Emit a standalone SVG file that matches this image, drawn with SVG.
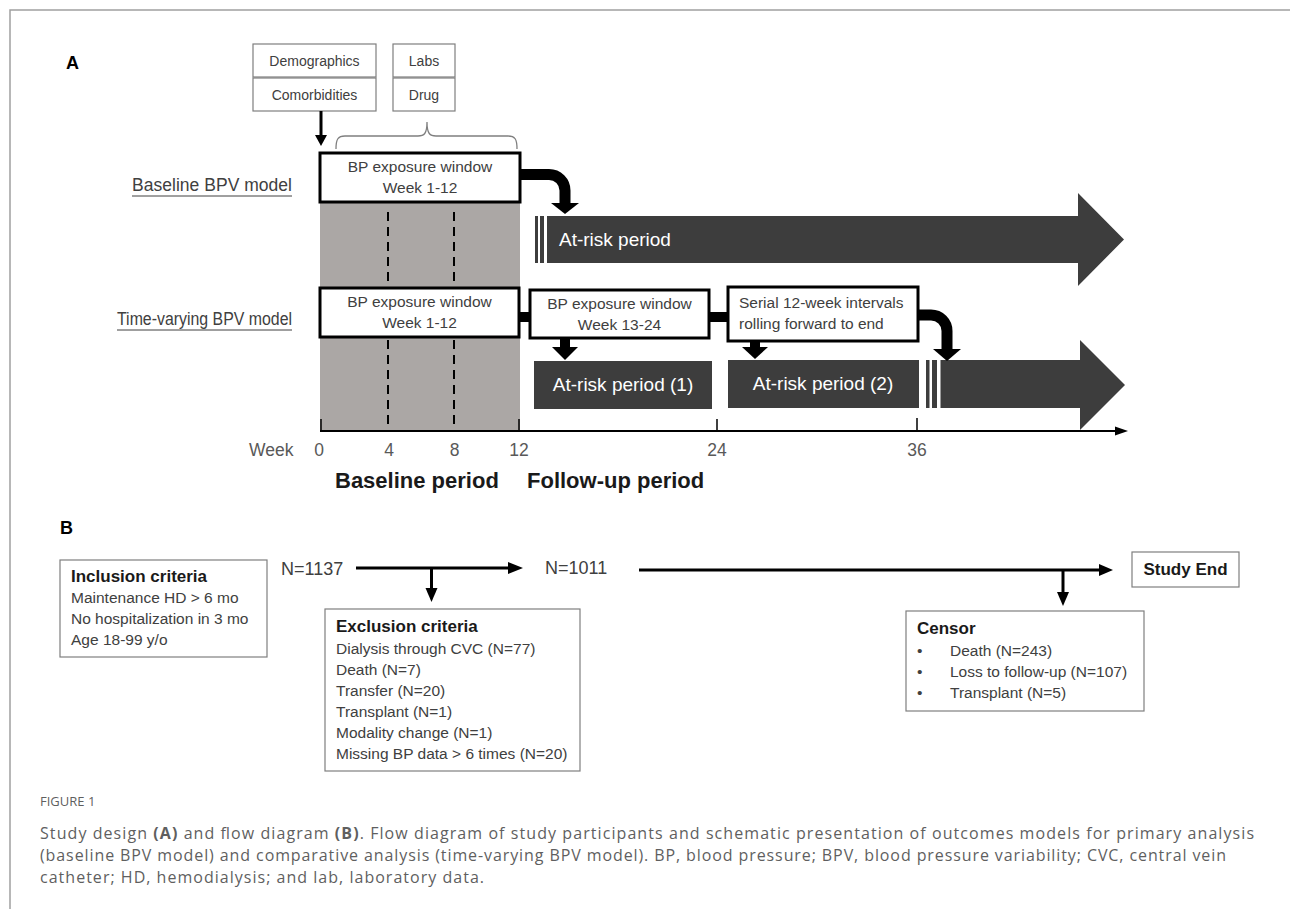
<svg xmlns="http://www.w3.org/2000/svg" width="1290" height="909" viewBox="0 0 1290 909">
<defs>
<style>
text{font-family:"Liberation Sans",Arial,sans-serif;}
.pl{font-size:18px;font-weight:bold;fill:#000;}
.sm{font-size:14px;fill:#404040;text-anchor:middle;}
.bx{font-size:15.5px;fill:#404040;text-anchor:middle;}
.lbl{font-size:17.5px;fill:#404040;text-anchor:end;}
.risk{font-size:19px;fill:#fff;}
.wk{font-size:17.5px;fill:#595959;text-anchor:middle;}
.per{font-size:22px;font-weight:bold;fill:#1a1a1a;}
.ttl{font-size:17px;font-weight:bold;fill:#1a1a1a;}
.it{font-size:15.5px;fill:#404040;}
.nn{font-size:18px;fill:#404040;}
.cap{font-family:"Open Sans","Liberation Sans",sans-serif;font-size:16px;fill:#5f5f5f;}
.gbox{fill:#fff;stroke:#7f7f7f;stroke-width:1.2;}
.kbox{fill:#fff;stroke:#000;stroke-width:3;}
.dark{fill:#3d3d3d;}
.blk{fill:#000;}
.dash{stroke:#000;stroke-width:2;stroke-dasharray:9 6;}
.thick{stroke:#000;stroke-width:3;fill:none;}
.bend{stroke:#000;stroke-width:11;fill:none;}
</style>
</defs>
<rect x="0" y="0" width="1290" height="909" fill="#fff"/>
<path d="M10,909 V10 H1290" fill="none" stroke="#a0a0a0" stroke-width="1.5"/>

<text class="pl" x="66" y="69">A</text>
<text class="pl" x="60" y="534">B</text>

<!-- grey baseline region -->
<rect x="320" y="202" width="200" height="229" fill="#aba7a5"/>
<line class="dash" x1="388" y1="212" x2="388" y2="286"/>
<line class="dash" x1="454" y1="212" x2="454" y2="286"/>
<line class="dash" x1="388" y1="340" x2="388" y2="430"/>
<line class="dash" x1="454" y1="340" x2="454" y2="430"/>

<g id="demographics"><rect class="gbox" x="253" y="44" width="123" height="33"/><text class="sm" x="314.5" y="66">Demographics</text></g>
<g id="comorbidities"><rect class="gbox" x="253" y="78" width="123" height="33"/><text class="sm" x="314.5" y="100">Comorbidities</text></g>
<g id="labs"><rect class="gbox" x="393" y="44" width="62" height="33"/><text class="sm" x="424" y="66">Labs</text></g>
<g id="drug"><rect class="gbox" x="393" y="78" width="62" height="33"/><text class="sm" x="424" y="100">Drug</text></g>

<g id="label-baseline"><text class="lbl" x="292" y="191" textLength="160">Baseline BPV model</text><line x1="132" y1="196" x2="292" y2="196" stroke="#404040" stroke-width="1"/></g>
<g id="label-timevarying"><text class="lbl" x="292" y="325" textLength="175" lengthAdjust="spacingAndGlyphs">Time-varying BPV model</text><line x1="117" y1="330" x2="292" y2="330" stroke="#404040" stroke-width="1"/></g>

<g id="bp-window-baseline"><rect class="kbox" x="320" y="153" width="200" height="49"/><text class="bx" x="420" y="172">BP exposure window</text><text class="bx" x="420" y="193">Week 1-12</text></g>
<g id="bp-window-tv1"><rect class="kbox" x="320" y="288" width="199" height="49"/><text class="bx" x="419.5" y="307">BP exposure window</text><text class="bx" x="419.5" y="328">Week 1-12</text></g>
<g id="bp-window-tv2"><rect class="kbox" x="530" y="290" width="179" height="48"/><text class="bx" x="619.5" y="309">BP exposure window</text><text class="bx" x="619.5" y="330">Week 13-24</text></g>
<g id="serial"><rect class="kbox" x="728" y="287" width="190" height="54"/><text class="bx" x="739" y="308" style="text-anchor:start">Serial 12-week intervals</text><text class="bx" x="739" y="329" style="text-anchor:start">rolling forward to end</text></g>

<g id="at-risk-baseline">
<rect class="dark" x="535" y="216" width="3" height="47"/><rect class="dark" x="540" y="216" width="4" height="47"/>
<polygon class="dark" points="547,216 1078,216 1078,193 1124,239.5 1078,286 1078,263 547,263"/>
<text class="risk" x="559" y="246">At-risk period</text></g>
<g id="at-risk-1"><rect class="dark" x="534" y="361" width="178" height="48"/><text class="risk" x="623" y="391" text-anchor="middle">At-risk period (1)</text></g>
<g id="at-risk-2"><rect class="dark" x="728" y="360" width="191" height="48"/><text class="risk" x="823" y="390" text-anchor="middle">At-risk period (2)</text></g>
<g id="at-risk-end">
<rect class="dark" x="926" y="360" width="3.5" height="48"/><rect class="dark" x="932" y="360" width="5" height="48"/>
<polygon class="dark" points="940.5,360 1080,360 1080,340 1125,385 1080,430 1080,408 940.5,408"/></g>

<g id="axis">
<line x1="320" y1="431" x2="1117" y2="431" stroke="#000" stroke-width="2"/>
<polygon class="blk" points="1115,426.5 1128,431 1115,435.5"/>
<g stroke="#000" stroke-width="1.5"><line x1="321" y1="419" x2="321" y2="432"/><line x1="519" y1="419" x2="519" y2="432"/><line x1="717" y1="419" x2="717" y2="432"/><line x1="917" y1="418" x2="917" y2="432"/></g>
<text class="wk" x="249" y="456" style="text-anchor:start">Week</text>
<text class="wk" x="319" y="456">0</text><text class="wk" x="389" y="456">4</text><text class="wk" x="454.5" y="456">8</text><text class="wk" x="519" y="456">12</text><text class="wk" x="717" y="456">24</text><text class="wk" x="917" y="456">36</text>
<text class="per" x="335" y="488">Baseline period</text>
<text class="per" x="527" y="488">Follow-up period</text>
</g>

<g id="connectors">
<line class="thick" x1="321" y1="111" x2="321" y2="137"/>
<polygon class="blk" points="315,135 327,135 321,146"/>
<path d="M336,149 C336,139 338,136 345,136 L418,136 C424,136 427,134 427,122 C427,134 430,136 436,136 L508,136 C515,136 517,139 517,149" fill="none" stroke="#7f7f7f" stroke-width="1.3"/>
<path class="bend" d="M520,174.5 H549 A16,16 0 0 1 565,190.5 V204"/>
<polygon class="blk" points="551,203 579,203 565,214"/>
<rect class="blk" x="519" y="312" width="11" height="10"/>
<rect class="blk" x="709" y="312" width="19" height="10"/>
<rect class="blk" x="560" y="338" width="10" height="10"/>
<polygon class="blk" points="552,347 578,347 565,360"/>
<rect class="blk" x="750" y="341" width="10" height="7"/>
<polygon class="blk" points="742,347 768,347 755,359"/>
<path class="bend" d="M918,315 H931 A16,16 0 0 1 947,331 V350"/>
<polygon class="blk" points="933,349 961,349 947,361"/>

<line class="thick" x1="356" y1="568" x2="510" y2="568"/>
<polygon class="blk" points="508,562 523,568 508,574"/>
<line class="thick" x1="431.5" y1="568" x2="431.5" y2="590"/>
<polygon class="blk" points="425.5,588 437.5,588 431.5,602"/>
<line class="thick" x1="639" y1="570" x2="1101" y2="570"/>
<polygon class="blk" points="1099,564 1113,570 1099,576"/>
<line class="thick" x1="1063" y1="570" x2="1063" y2="594"/>
<polygon class="blk" points="1057,592 1069,592 1063,606"/>
</g>

<g id="inclusion"><rect class="gbox" x="60" y="560" width="207" height="97"/>
<text class="ttl" x="71" y="582">Inclusion criteria</text>
<text class="it" x="71" y="603">Maintenance HD &gt; 6 mo</text>
<text class="it" x="71" y="624">No hospitalization in 3 mo</text>
<text class="it" x="71" y="645">Age 18-99 y/o</text></g>
<g id="n1137"><text class="nn" x="281" y="575">N=1137</text></g>
<g id="n1011"><text class="nn" x="545" y="574">N=1011</text></g>
<g id="study-end"><rect class="gbox" x="1132" y="552" width="107" height="35"/><text class="ttl" x="1185.5" y="575" text-anchor="middle">Study End</text></g>
<g id="exclusion"><rect class="gbox" x="325" y="609" width="255" height="162"/>
<text class="ttl" x="336" y="632">Exclusion criteria</text>
<text class="it" x="336" y="654">Dialysis through CVC (N=77)</text>
<text class="it" x="336" y="675">Death (N=7)</text>
<text class="it" x="336" y="696">Transfer (N=20)</text>
<text class="it" x="336" y="717">Transplant (N=1)</text>
<text class="it" x="336" y="738">Modality change (N=1)</text>
<text class="it" x="336" y="759">Missing BP data &gt; 6 times (N=20)</text></g>
<g id="censor"><rect class="gbox" x="906" y="611" width="238" height="100"/>
<text class="ttl" x="917" y="634">Censor</text>
<text class="it" x="917" y="656">•</text><text class="it" x="950" y="656">Death (N=243)</text>
<text class="it" x="917" y="677">•</text><text class="it" x="950" y="677">Loss to follow-up (N=107)</text>
<text class="it" x="917" y="698">•</text><text class="it" x="950" y="698">Transplant (N=5)</text></g>

<g id="caption">
<text class="cap" x="40" y="806" style="font-size:13px">FIGURE 1</text>
<text class="cap" x="40" y="839" textLength="1214">Study design <tspan font-weight="bold">(A)</tspan> and flow diagram <tspan font-weight="bold">(B)</tspan>. Flow diagram of study participants and schematic presentation of outcomes models for primary analysis</text>
<text class="cap" x="40" y="861" textLength="1186">(baseline BPV model) and comparative analysis (time-varying BPV model). BP, blood pressure; BPV, blood pressure variability; CVC, central vein</text>
<text class="cap" x="40" y="883" textLength="444">catheter; HD, hemodialysis; and lab, laboratory data.</text>
</g>
</svg>
